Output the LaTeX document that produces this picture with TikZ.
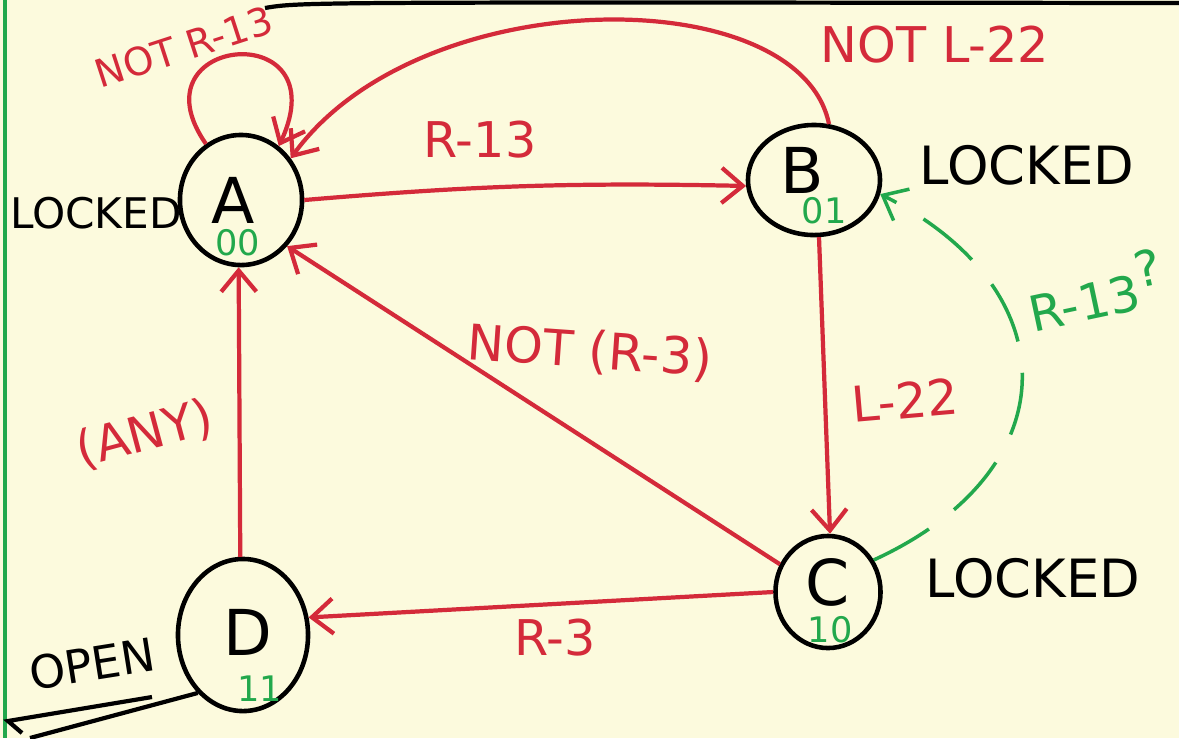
\documentclass[tikz,border=0pt]{standalone}
\usepackage{fontspec}
\setmainfont{DejaVu Sans}
\usetikzlibrary{shapes.geometric,arrows.meta}

\definecolor{paper}{HTML}{FCFADD}
\definecolor{redpen}{HTML}{D42A3A}
\definecolor{greenpen}{HTML}{22A84C}

\tikzset{
	state/.style={draw, ellipse, line width=1.3pt, inner sep=0pt},
	move/.style={draw=redpen, line width=1.2pt, -{Straight Barb[length=6pt,width=10pt]}},
	guess/.style={draw=greenpen, line width=1pt, dash pattern=on 18pt off 9pt, -{Straight Barb[length=6pt,width=10pt]}},
	redlbl/.style={text=redpen, font=\fontsize{14}{16}\selectfont},
	blklbl/.style={font=\fontsize{15}{17}\selectfont},
	letter/.style={font=\fontsize{18}{20}\selectfont},
	code/.style={text=greenpen, font=\fontsize{10}{12}\selectfont}
}

\begin{document}
\begin{tikzpicture}[x=0.01cm, y=-0.01cm]

	\fill[paper] (0,0) rectangle (1179,738);
	\useasboundingbox (0,0) rectangle (1179,738);
	\draw[greenpen, line width=1pt] (5,0) -- (5,738);

	% states
	\node[state, minimum width=1.22cm, minimum height=1.3cm] (A) at (241,200) {};
	\node[state, minimum width=1.32cm, minimum height=1.1cm] (B) at (814,180) {};
	\node[state, minimum width=1.05cm, minimum height=1.12cm] (C) at (828,592) {};
	\node[state, minimum width=1.3cm, minimum height=1.52cm] (D) at (243,635) {};

	\foreach \s / \x / \y / \c / \u / \v in {
	A/233/200/00/238/243,
	B/802/170/01/824/211,
	C/828/582/10/830/630,
	D/248/632/11/260/689}
	{
		\node[letter] (l\s) at (\x,\y) {\s};
		\node[code] (c\s) at (\u,\v) {\c};
	};

	% what each state is
	\node[blklbl, font=\fontsize{12}{14}\selectfont] (tA) at (96,213) {LOCKED};
	\node[blklbl] (tB) at (1027,165) {LOCKED};
	\node[blklbl] (tC) at (1033,578) {LOCKED};
	\node[blklbl, font=\fontsize{13}{15}\selectfont, rotate=9] (tD) at (92,664) {OPEN};

	% transitions
	\draw[move] (A.122) .. controls (130,35) and (340,15) .. (A.55);
	\draw[move] (B.75) .. controls (800,-20) and (420,-20) .. (A.40);
	\path (A.east) edge[move, bend left=3] (B.185);
	\foreach \i / \j in {
	B.-85/C.88,
	C.150/A.-45,
	C.180/D.15,
	D.92/A.-92}
	{
		\path (\i) edge[move] (\j);
	};
	\draw[guess] (C.35) .. controls (1070,470) and (1070,290) .. (B.-12);

	\node[redlbl, font=\fontsize{11}{13}\selectfont, rotate=18] (m1) at (184,47) {NOT R-13};
	\node[redlbl] (m2) at (935,45) {NOT L-22};
	\node[redlbl] (m3) at (480,140) {R-13};
	\node[redlbl, rotate=5] (m4) at (905,400) {L-22};
	\node[redlbl, rotate=-4] (m5) at (590,352) {NOT {\Large(R-3)}};
	\node[redlbl] (m6) at (555,638) {R-3};
	\node[redlbl, rotate=15] (m7) at (145,435) {(ANY)};
	\node[redlbl, text=greenpen, rotate=12] (m8) at (1095,290) {R-13\raisebox{6pt}{?}};

	% page marks
	\coordinate (top1) at (265,8);
	\coordinate (top2) at (1179,3);
	\coordinate (ul1) at (152,697);
	\coordinate (ul2) at (8,721);
	\coordinate (ul3) at (22,733);
	\coordinate (tail) at (30,738);
	\draw[line width=1.2pt] (top1) .. controls (300,2) .. (top2);
	\draw[line width=1.2pt] (ul1) -- (ul2) -- (ul3);
	\draw[line width=1.2pt] (D.232) -- (tail);

\end{tikzpicture}
\end{document}
